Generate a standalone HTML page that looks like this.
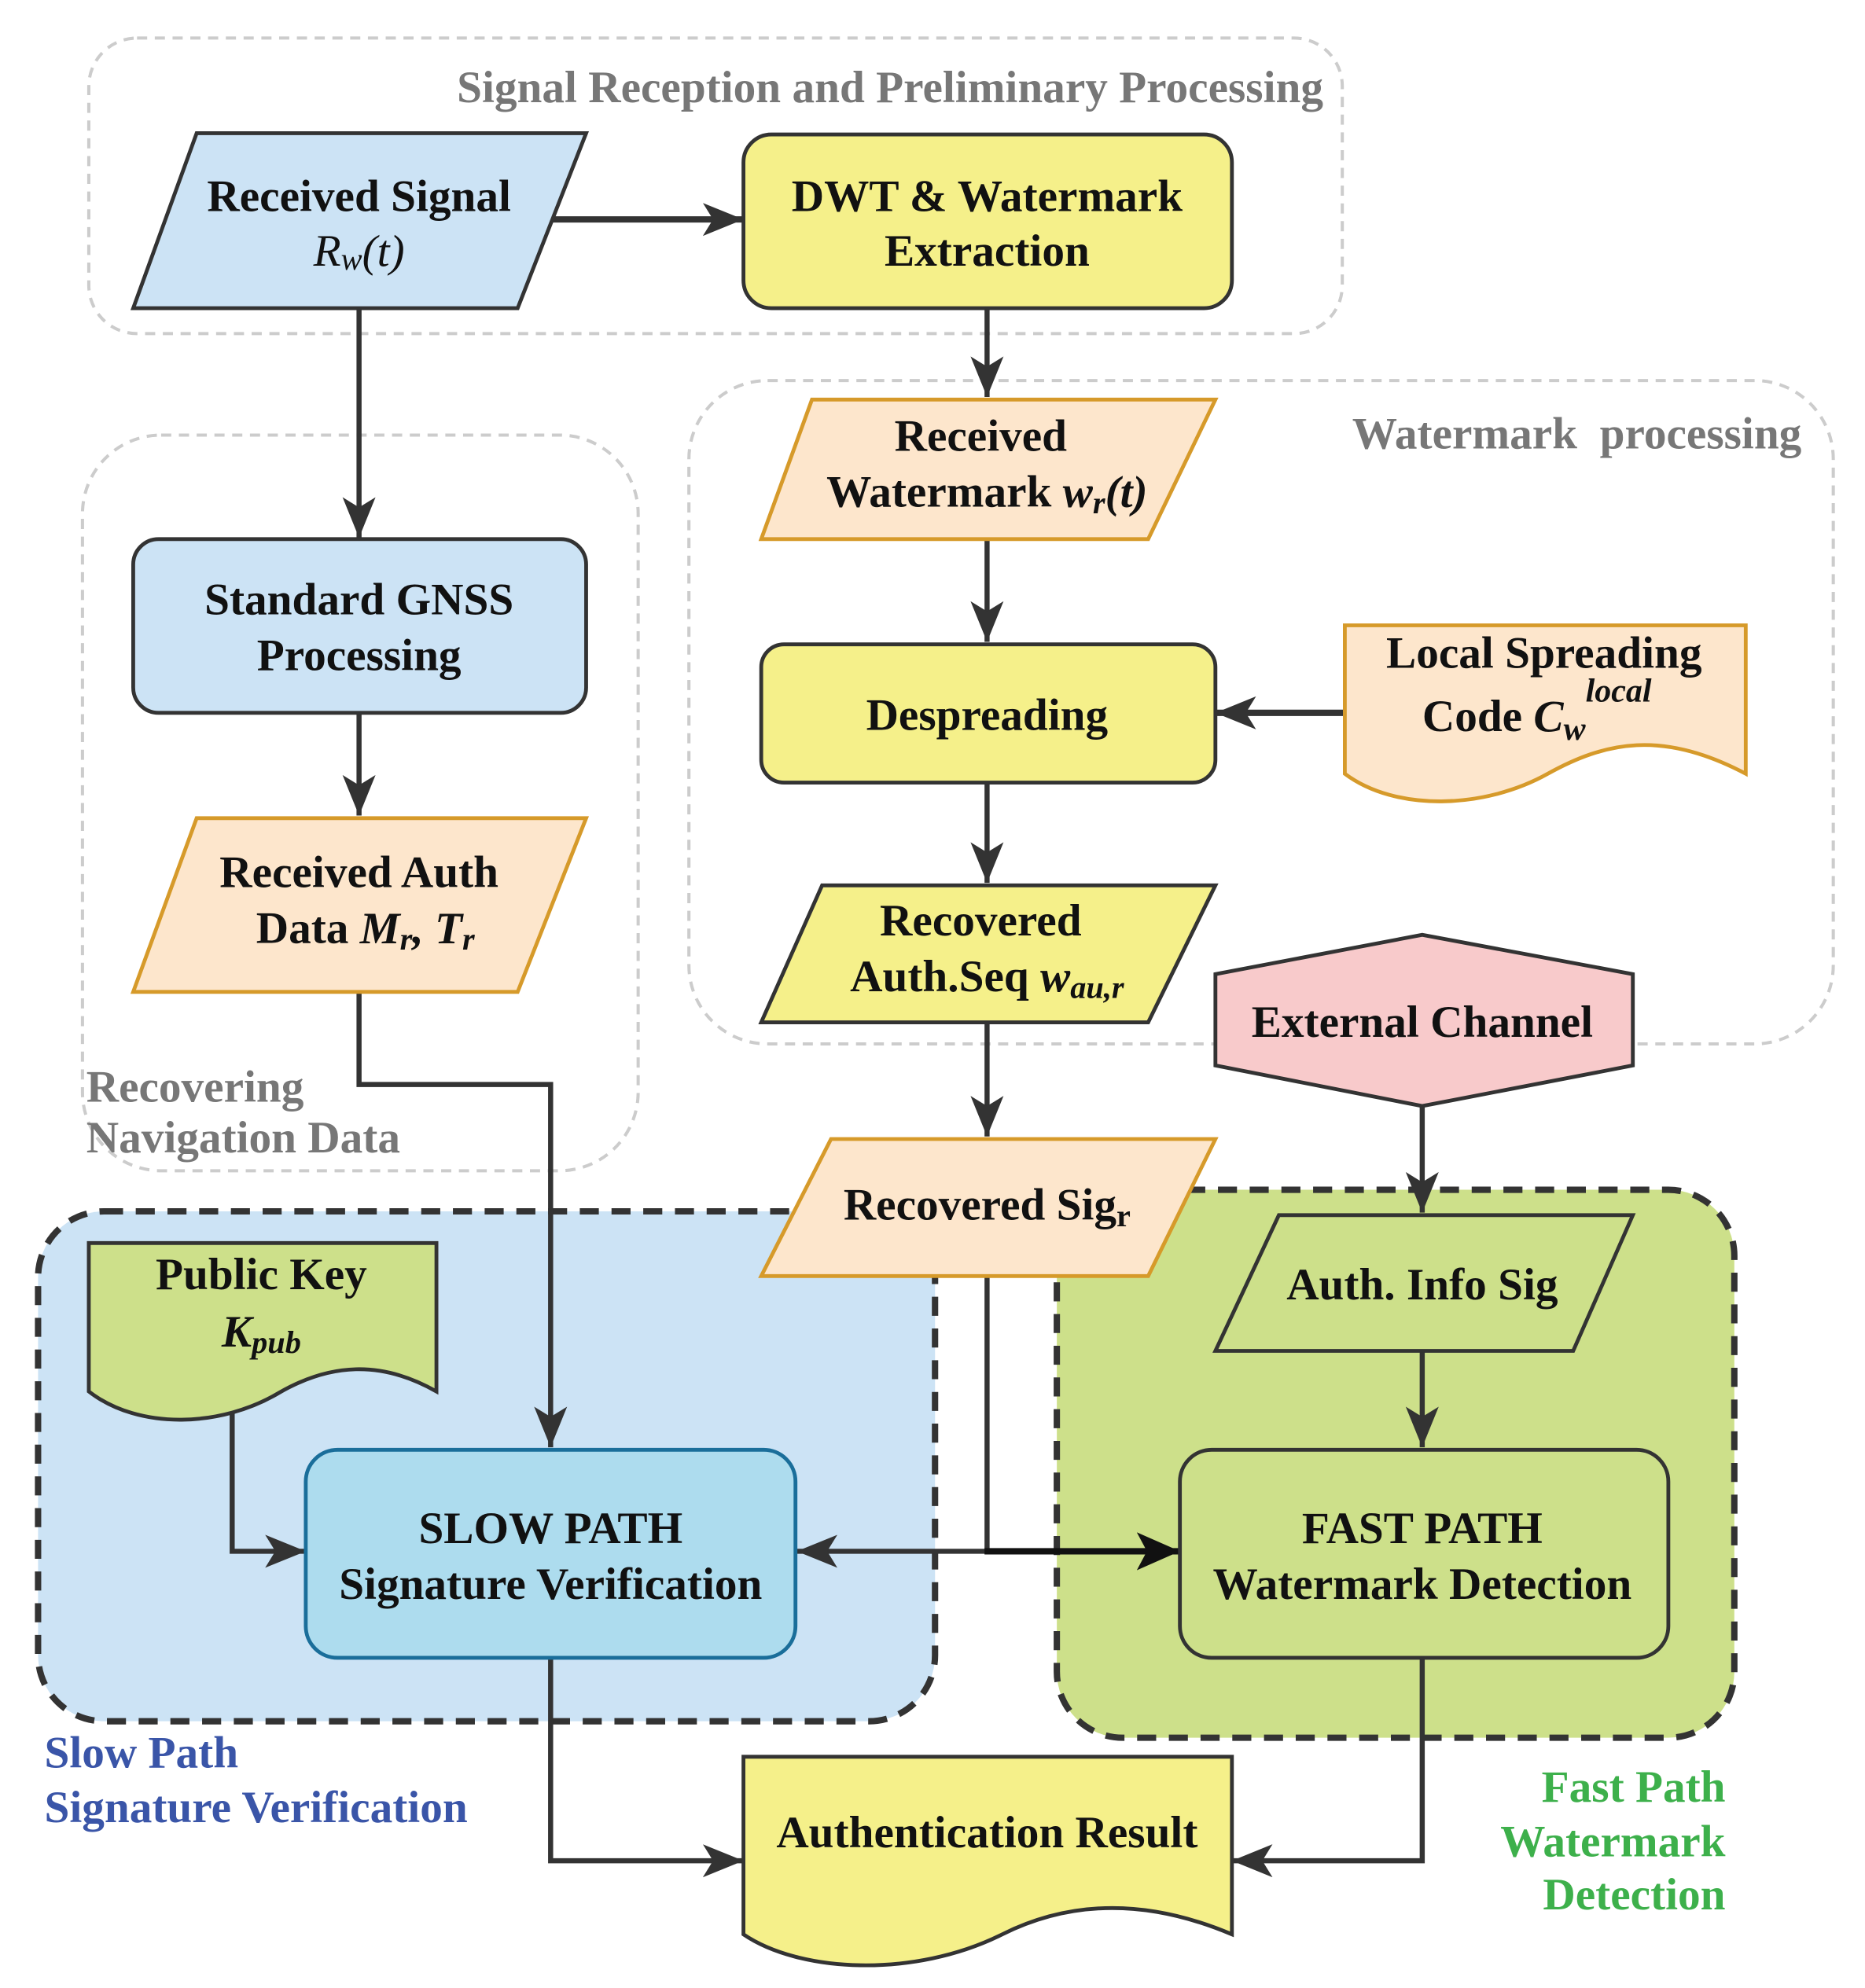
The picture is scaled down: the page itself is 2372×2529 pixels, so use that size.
<!DOCTYPE html>
<html><head><meta charset="utf-8"><style>html,body{margin:0;padding:0;background:#fff}svg{display:block}</style></head>
<body>
<svg xmlns="http://www.w3.org/2000/svg" width="2372" height="2529" viewBox="0 0 1470 1567.3">
<defs>
<marker id="a" markerUnits="userSpaceOnUse" markerWidth="34" markerHeight="28" refX="32" refY="13" orient="auto"><path d="M0,0 L32,13 L0,26 L8,13 z" fill="#333"/></marker>
<marker id="b" markerUnits="userSpaceOnUse" markerWidth="36" markerHeight="32" refX="34" refY="15" orient="auto"><path d="M0,0 L34,15 L0,30 L8,15 z" fill="#111"/></marker>
</defs>
<g font-family="Liberation Serif, serif" font-weight="bold">
<rect x="70" y="30" width="988" height="233" rx="38" fill="none" stroke="#ccc" stroke-width="2.5" stroke-dasharray="8 6"/>
<text x="1043" y="69" text-anchor="end" dominant-baseline="central" font-size="35.5" fill="#777">Signal Reception and Preliminary Processing</text>
<rect x="543" y="300" width="902" height="523" rx="62" fill="none" stroke="#ccc" stroke-width="2.5" stroke-dasharray="8 6"/>
<text x="1420" y="342" text-anchor="end" dominant-baseline="central" font-size="35.5" fill="#777" xml:space="preserve">Watermark  processing</text>
<rect x="65" y="343" width="438" height="580" rx="62" fill="none" stroke="#ccc" stroke-width="2.5" stroke-dasharray="8 6"/>
<text x="68" y="857" dominant-baseline="central" font-size="35.5" fill="#777">Recovering</text>
<text x="68" y="897" dominant-baseline="central" font-size="35.5" fill="#777">Navigation Data</text>

<rect x="30" y="955" width="707" height="402" rx="52" fill="#cce3f5" stroke="#333" stroke-width="5" stroke-dasharray="15 10"/>
<rect x="833" y="938" width="534" height="432" rx="52" fill="#cde08a" stroke="#333" stroke-width="5" stroke-dasharray="15 10"/>

<g stroke="#333" stroke-width="4" fill="none">
<line x1="434" y1="173" x2="586" y2="173" marker-end="url(#a)" stroke-width="5"/>
<line x1="778" y1="243" x2="778" y2="313" marker-end="url(#a)"/>
<line x1="283" y1="243" x2="283" y2="424" marker-end="url(#a)"/>
<line x1="778" y1="425" x2="778" y2="506" marker-end="url(#a)"/>
<line x1="1060" y1="562" x2="958" y2="562" marker-end="url(#a)" stroke-width="5"/>
<line x1="283" y1="562" x2="283" y2="643" marker-end="url(#a)"/>
<line x1="778" y1="617" x2="778" y2="696" marker-end="url(#a)"/>
<line x1="778" y1="806" x2="778" y2="896" marker-end="url(#a)"/>
<polyline points="283,782 283,855 434,855 434,1141" marker-end="url(#a)"/>
<polyline points="183,1105 183,1223 241,1223" marker-end="url(#a)"/>
<polyline points="778,1006 778,1223 628,1223" marker-end="url(#a)"/>
<line x1="1121" y1="872" x2="1121" y2="956" marker-end="url(#a)"/>
<line x1="1121" y1="1065" x2="1121" y2="1141" marker-end="url(#a)"/>
<polyline points="434,1307 434,1467 586,1467" marker-end="url(#a)"/>
<polyline points="1121,1307 1121,1467 971,1467" marker-end="url(#a)"/>
</g>
<line x1="776" y1="1223" x2="930" y2="1223" stroke="#111" stroke-width="5" marker-end="url(#b)"/>

<g stroke-width="3">
<polygon points="155,105 462,105 408,243 105,243" fill="#cce3f5" stroke="#333"/>
<rect x="586" y="106" width="385" height="137" rx="22" fill="#f5f08a" stroke="#333"/>
<polygon points="640,315 958,315 905,425 600,425" fill="#fde6cc" stroke="#d69a2a"/>
<rect x="600" y="508" width="358" height="109" rx="18" fill="#f5f08a" stroke="#333"/>
<path d="M1060,493 H1376 V610 C1310,575 1265,585 1220,610 C1170,638 1100,640 1060,610 Z" fill="#fde6cc" stroke="#d69a2a"/>
<rect x="105" y="425" width="357" height="137" rx="20" fill="#cce3f5" stroke="#333"/>
<polygon points="155,645 462,645 408,782 105,782" fill="#fde6cc" stroke="#d69a2a"/>
<polygon points="648,698 958,698 905,806 600,806" fill="#f5f08a" stroke="#333"/>
<polygon points="958,768 1121,737 1287,768 1287,840 1121,872 958,840" fill="#f8cacb" stroke="#333"/>
<polygon points="655,898 958,898 905,1006 600,1006" fill="#fde6cc" stroke="#d69a2a"/>
<path d="M70,980 H344 V1097 C300,1072 260,1075 220,1098 C175,1125 110,1128 70,1097 Z" fill="#cde08a" stroke="#333"/>
<rect x="241" y="1143" width="386" height="164" rx="25" fill="#addcee" stroke="#1a6e9a"/>
<polygon points="1008,958 1287,958 1240,1065 958,1065" fill="#cde08a" stroke="#333"/>
<rect x="930" y="1143" width="385" height="164" rx="25" fill="#cde08a" stroke="#333"/>
<path d="M586,1385 H971 V1525 C900,1495 840,1500 790,1525 C720,1560 630,1555 586,1525 Z" fill="#f5f08a" stroke="#333"/>
</g>

<g font-size="35.5" fill="#111" text-anchor="middle" dominant-baseline="central">
<text x="283" y="155">Received Signal</text>
<text x="283" y="198" font-style="italic" font-weight="normal">R<tspan font-size="25" dy="6">w</tspan><tspan dy="-6">(t)</tspan></text>
<text x="778" y="155">DWT &amp; Watermark</text>
<text x="778" y="198">Extraction</text>
<text x="773" y="344">Received</text>
<text x="778" y="388">Watermark <tspan font-style="italic">w<tspan font-size="25" dy="8">r</tspan><tspan dy="-8">(t)</tspan></tspan></text>
<text x="778" y="564">Despreading</text>
<text x="1217" y="515">Local Spreading</text>
<text x="1121" y="565" text-anchor="start">Code <tspan font-style="italic">C<tspan font-size="26" dy="10">w</tspan><tspan font-size="26" dy="-30">local</tspan></tspan></text>
<text x="283" y="473">Standard GNSS</text>
<text x="283" y="517">Processing</text>
<text x="283" y="688">Received Auth</text>
<text x="288" y="732">Data <tspan font-style="italic">M<tspan font-size="25" dy="8">r</tspan><tspan dy="-8">, T</tspan><tspan font-size="25" dy="8">r</tspan></tspan></text>
<text x="773" y="726">Recovered</text>
<text x="778" y="770">Auth.Seq <tspan font-style="italic">w<tspan font-size="25" dy="8">au,r</tspan></tspan></text>
<text x="1121" y="806">External Channel</text>
<text x="778" y="950">Recovered Sig<tspan font-size="25" dy="8">r</tspan></text>
<text x="206" y="1005">Public Key</text>
<text x="206" y="1050" font-style="italic">K<tspan font-size="25" dy="8">pub</tspan></text>
<text x="434" y="1205">SLOW PATH</text>
<text x="434" y="1249">Signature Verification</text>
<text x="1121" y="1013">Auth. Info Sig</text>
<text x="1121" y="1205">FAST PATH</text>
<text x="1121" y="1249">Watermark Detection</text>
<text x="778" y="1445">Authentication Result</text>
</g>
<g font-size="35.5" dominant-baseline="central">
<text x="35" y="1382" fill="#3a55a8">Slow Path</text>
<text x="35" y="1425" fill="#3a55a8">Signature Verification</text>
<text x="1360" y="1409" fill="#3db04b" text-anchor="end">Fast Path</text>
<text x="1360" y="1452" fill="#3db04b" text-anchor="end">Watermark</text>
<text x="1360" y="1494" fill="#3db04b" text-anchor="end">Detection</text>
</g>
</g>
</svg>
</body></html>
